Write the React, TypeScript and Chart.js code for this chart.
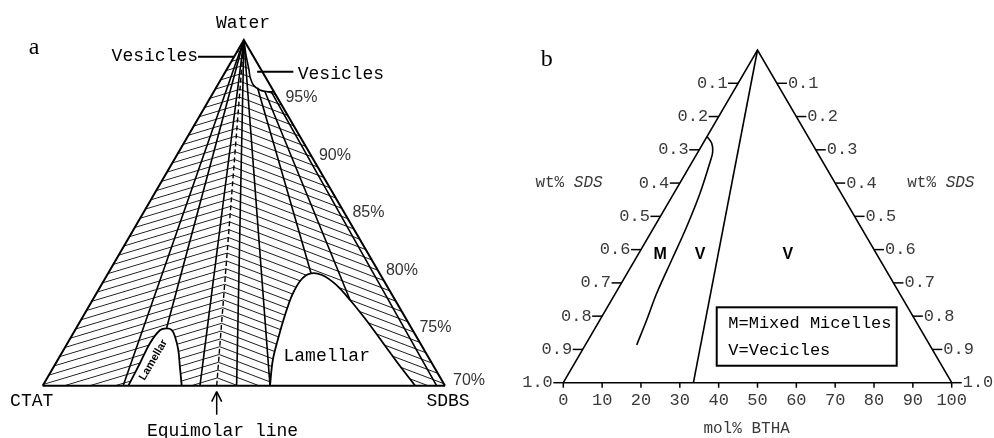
import React, { useEffect, useRef } from "react";
import { Chart, registerables } from "chart.js";

Chart.register(...registerables);

type P = [number, number];

// ---------------- Panel a ----------------
// u: position along the CTAT (0) -> SDBS (100) base ; v: wt% water (70 at the base, 100 at the apex)
const A_CORNERS: P[] = [[0, 70], [50, 100], [100, 70]];
const A_WATER_LEVELS = [95, 90, 85, 80, 75, 70];
const A_FAN_FEET = [20.0, 39.1, 48.2, 56.5];
const A_EQUIMOLAR: P[] = [[43.25, 70], [50, 100]];
const A_PEAK_TIES: P[][] = [
  [[30.8, 75.0], [50, 100]],
  [[66.7, 79.75], [53.4, 95.85]],
  [[76.4, 77.44], [55.2, 95.55]],
];
const A_INNER_RIGHT: P[] = [[56.8, 95.52], [97.9, 70]];
const A_SMALL_LAMELLAR: P[] = [
  [21.3, 70], [24.2, 71.97], [26.7, 73.71], [29.2, 74.83], [30.8, 74.98],
  [32.1, 74.83], [32.9, 74.25], [33.7, 73.1], [34.1, 71.65], [34.55, 70],
];
const A_BIG_LAMELLAR: P[] = [
  [56.5, 70], [57.2, 72.23], [58.7, 74.31], [60.0, 75.87], [62.0, 77.87], [64.4, 79.26],
  [66.7, 79.75], [69.4, 79.61], [72.7, 78.83], [76.4, 77.44], [80.4, 75.7], [84.6, 73.71],
  [88.8, 71.71], [92.6, 70],
];
const A_VESICLES: P[] = [
  [50, 100], [50.53, 98.7], [51.28, 97.4], [51.53, 96.82], [52.35, 96.1],
  [54.01, 95.66], [55.5, 95.53], [57.48, 95.51],
];
const A_LEADERS: P[][] = [
  [[38.6, 98.55], [47.6, 98.55]],
  [[53.3, 97.25], [62.3, 97.25]],
];

// ---------------- Panel b ----------------
// m: mol% BTHA along the base ; t: wt% SDS read from the apex (0) to the base (1.0)
const B_CORNERS: P[] = [[0, 1], [50, 0], [100, 1]];
const B_MOL_TICKS = [0, 10, 20, 30, 40, 50, 60, 70, 80, 90, 100];
const B_WT_TICKS = [0.1, 0.2, 0.3, 0.4, 0.5, 0.6, 0.7, 0.8, 0.9, 1.0];
const B_MICELLE_BOUNDARY: P[] = [
  [37.0, 0.26], [38.21, 0.2804], [38.47, 0.3056], [37.95, 0.3306], [35.2, 0.4307],
  [31.77, 0.5311], [27.91, 0.6312], [24.05, 0.7313], [21.47, 0.8115], [18.9, 0.8866],
];
const B_VESICLE_BOUNDARY: P[] = [[50, 0], [33.5, 1]];
const B_REGION_LABELS: { text: string; at: P }[] = [
  { text: "M", at: [24.97, 0.616] },
  { text: "V", at: [35.2, 0.616] },
  { text: "V", at: [57.78, 0.616] },
];
const B_LEGEND_LINES = ["M=Mixed Micelles", "V=Vecicles"];

// ---------------- styles ----------------
const INK = "#000";
const GREY = "#3a3a3a";
const MONO = '"Liberation Mono", "DejaVu Sans Mono", monospace';
const HATCH = { gap: 7.8, leftSlope: -0.3, rightSlope: 0.38, color: "#1c1c1c" };

function hatchPattern(chart: any, slope: number): any {
  const xa = chart.scales && chart.scales.xa;
  const ya = chart.scales && chart.scales.ya;
  if (!xa || !ya) return "rgba(0,0,0,0)";
  const fx = xa.getPixelForValue(A_EQUIMOLAR[0][0]);
  const fy = ya.getPixelForValue(A_EQUIMOLAR[0][1]);
  const tx = xa.getPixelForValue(A_EQUIMOLAR[1][0]);
  const ty = ya.getPixelForValue(A_EQUIMOLAR[1][1]);
  const lean = (tx - fx) / (fy - ty);
  const period = HATCH.gap * (1 + slope * lean);
  const tile = document.createElement("canvas");
  tile.width = 8;
  tile.height = 8;
  const g = tile.getContext("2d")!;
  g.fillStyle = HATCH.color;
  g.fillRect(0, 4, 8, 1);
  const pat = chart.ctx.createPattern(tile, "repeat");
  const d = period / 8;
  const off = fy - slope * fx - 4.5 * d;
  pat.setTransform(new DOMMatrix([1, slope, 0, d, 0, off]));
  return pat;
}

function path(points: P[], panel: "a" | "b", style: any = {}) {
  return {
    data: points.map(([x, y]) => ({ x, y })),
    xAxisID: panel === "a" ? "xa" : "xb",
    yAxisID: panel === "a" ? "ya" : "yb",
    showLine: true,
    pointRadius: 0,
    pointHoverRadius: 0,
    borderColor: INK,
    borderWidth: 1.6,
    backgroundColor: "rgba(0,0,0,0)",
    fill: false,
    tension: 0,
    order: 10,
    ...style,
  };
}

const annotations = {
  id: "annotations",
  afterDraw(chart: any) {
    const ctx: CanvasRenderingContext2D = chart.ctx;
    const { xa, ya, xb, yb } = chart.scales;
    const A = (u: number, v: number): P => [xa.getPixelForValue(u), ya.getPixelForValue(v)];
    const B = (m: number, t: number): P => [xb.getPixelForValue(m), yb.getPixelForValue(t)];
    const write = (s: string, p: P, font: string, color: string, align: CanvasTextAlign = "center", angle = 0) => {
      ctx.save();
      ctx.translate(p[0], p[1]);
      if (angle) ctx.rotate(angle);
      ctx.font = font;
      ctx.fillStyle = color;
      ctx.textAlign = align;
      ctx.textBaseline = "middle";
      ctx.fillText(s, 0, 0);
      ctx.restore();
    };
    const seg = (p: P, q: P, w: number, color = INK) => {
      ctx.beginPath();
      ctx.moveTo(p[0], p[1]);
      ctx.lineTo(q[0], q[1]);
      ctx.lineWidth = w;
      ctx.strokeStyle = color;
      ctx.stroke();
    };
    ctx.save();
    ctx.lineCap = "butt";

    // ---- panel a text
    write("a", A(-2.16, 99.31), '24px "Liberation Serif", serif', INK);
    write("Water", A(49.79, 101.48), `18px ${MONO}`, INK);
    write("Vesicles", A(38.6, 98.55), `18px ${MONO}`, INK, "right");
    write("Vesicles", A(63.4, 97.0), `18px ${MONO}`, INK, "left");
    write("CTAT", A(-2.73, 68.61), `18px ${MONO}`, INK);
    write("SDBS", A(100.75, 68.61), `18px ${MONO}`, INK);
    write("Lamellar", A(70.6, 72.58), `18px ${MONO}`, INK);
    write("Lamellar", A(27.5, 72.23), 'bold 11px "Liberation Sans", Arial, sans-serif', INK, "center", -1.04);
    write("Equimolar line", A(44.69, 66.07), `18px ${MONO}`, INK);
    for (const v of A_WATER_LEVELS) {
      const [x, y] = A(50 + (50 * (100 - v)) / 30, v);
      write(`${v}%`, [x + 8, y + (v === 70 ? -5 : 0)], '16px "Liberation Sans", Arial, sans-serif', "#333", "left");
    }
    // equimolar arrow
    const [fx, fy] = A(A_EQUIMOLAR[0][0], A_EQUIMOLAR[0][1]);
    seg([fx, fy + 6], [fx, fy + 29], 1.5);
    seg([fx - 5, fy + 16], [fx, fy + 6], 1.5);
    seg([fx + 5, fy + 16], [fx, fy + 6], 1.5);

    // ---- panel b ticks and labels
    const tickFont = `17px ${MONO}`;
    for (const t of B_WT_TICKS) {
      const [lx, ly] = B(50 - 50 * t, t);
      seg([lx - 10, ly], [lx, ly], 1.5);
      write(t.toFixed(1), [lx - 10.5, ly], tickFont, GREY, "right");
      const [rx, ry] = B(50 + 50 * t, t);
      seg([rx, ry], [rx + 10, ry], 1.5);
      write(t.toFixed(1), [rx + 11, ry], tickFont, GREY, "left");
    }
    for (const m of B_MOL_TICKS) {
      const [x, y] = B(m, 1);
      seg([x, y], [x, y + 5], 1.5);
      write(String(m), [x, y + 18], tickFont, GREY);
    }
    write("b", B(-4.27, 0.03), '24px "Liberation Serif", serif', INK);
    write("mol% BTHA", B(47.2, 1.137), `16px ${MONO}`, GREY);
    // wt% SDS (italic SDS)
    const axisTitle = (center: P) => {
      const up = `16px ${MONO}`;
      const it = `italic 16px ${MONO}`;
      ctx.font = up;
      const w1 = ctx.measureText("wt% ").width;
      ctx.font = it;
      const w2 = ctx.measureText("SDS").width;
      const x0 = center[0] - (w1 + w2) / 2;
      write("wt% ", [x0, center[1]], up, GREY, "left");
      write("SDS", [x0 + w1, center[1]], it, GREY, "left");
    };
    axisTitle(B(1.47, 0.4));
    axisTitle(B(97.2, 0.4));
    for (const r of B_REGION_LABELS) {
      write(r.text, B(r.at[0], r.at[1]), 'bold 16px "Liberation Sans", Arial, sans-serif', INK);
    }
    // legend box
    const [bx0, by0] = B(39.5, 0.7734);
    const [bx1, by1] = B(85.84, 0.949);
    ctx.lineWidth = 2;
    ctx.strokeStyle = INK;
    ctx.strokeRect(bx0, by0, bx1 - bx0, by1 - by0);
    write(B_LEGEND_LINES[0], B(42.48, 0.8215), `17px ${MONO}`, INK, "left");
    write(B_LEGEND_LINES[1], B(42.48, 0.9038), `17px ${MONO}`, INK, "left");
    ctx.restore();
  },
};

export default function App() {
  const ref = useRef<HTMLCanvasElement | null>(null);
  useEffect(() => {
    const canvas = ref.current;
    if (!canvas) return;
    const datasets: any[] = [
      // hatching (tie lines)
      path([A_CORNERS[0], A_CORNERS[1], A_EQUIMOLAR[0]], "a", {
        fill: "shape", borderWidth: 0, borderColor: "rgba(0,0,0,0)", order: 40,
        backgroundColor: (c: any) => hatchPattern(c.chart, HATCH.leftSlope),
      }),
      path([A_EQUIMOLAR[0], A_CORNERS[1], A_CORNERS[2]], "a", {
        fill: "shape", borderWidth: 0, borderColor: "rgba(0,0,0,0)", order: 40,
        backgroundColor: (c: any) => hatchPattern(c.chart, HATCH.rightSlope),
      }),
      // one-phase (white) regions
      path(A_SMALL_LAMELLAR, "a", { fill: "shape", backgroundColor: "#fff", borderWidth: 1.8, tension: 0.35, order: 30 }),
      path(A_BIG_LAMELLAR, "a", { fill: "shape", backgroundColor: "#fff", borderWidth: 1.8, tension: 0.35, order: 30 }),
      path(A_VESICLES, "a", { fill: "shape", backgroundColor: "#fff", borderWidth: 1.6, tension: 0.3, order: 30 }),
      // triangle
      path([A_CORNERS[0], A_CORNERS[1], A_CORNERS[2]], "a", { borderWidth: 2 }),
      path([A_CORNERS[0], A_CORNERS[2]], "a", { borderWidth: 2 }),
      ...A_FAN_FEET.map((u) => path([[u, 70], A_CORNERS[1]], "a")),
      ...A_PEAK_TIES.map((p) => path(p, "a")),
      path(A_INNER_RIGHT, "a"),
      path(A_EQUIMOLAR, "a", { borderWidth: 1.4, borderDash: [5, 3] }),
      ...A_LEADERS.map((p) => path(p, "a", { borderWidth: 2 })),
      // panel b
      path(B_CORNERS, "b"),
      path([B_CORNERS[0], B_CORNERS[2]], "b"),
      path(B_MICELLE_BOUNDARY, "b", { tension: 0.35 }),
      path(B_VESICLE_BOUNDARY, "b"),
    ];
    const hidden = (min: number, max: number, reverse = false) => ({
      type: "linear", min, max, reverse, display: false, bounds: "data", grace: 0,
    });
    const chart = new Chart(canvas, {
      type: "scatter",
      data: { datasets },
      options: {
        animation: false,
        responsive: false,
        maintainAspectRatio: false,
        events: [],
        layout: { padding: 0 },
        plugins: { legend: { display: false }, tooltip: { enabled: false } },
        scales: {
          xa: hidden(-10.614, 236.465),
          ya: hidden(65.461, 103.471),
          xb: hidden(-145.031, 110.891),
          yb: hidden(-0.15029, 1.16622, true),
        } as any,
      },
      plugins: [annotations],
    } as any);
    return () => chart.destroy();
  }, []);
  return (
    <div style={{ position: "fixed", left: 0, top: 0, width: 994, height: 438, background: "#fff" }}>
      <canvas ref={ref} width={994} height={438} style={{ width: 994, height: 438, display: "block" }} />
    </div>
  );
}
